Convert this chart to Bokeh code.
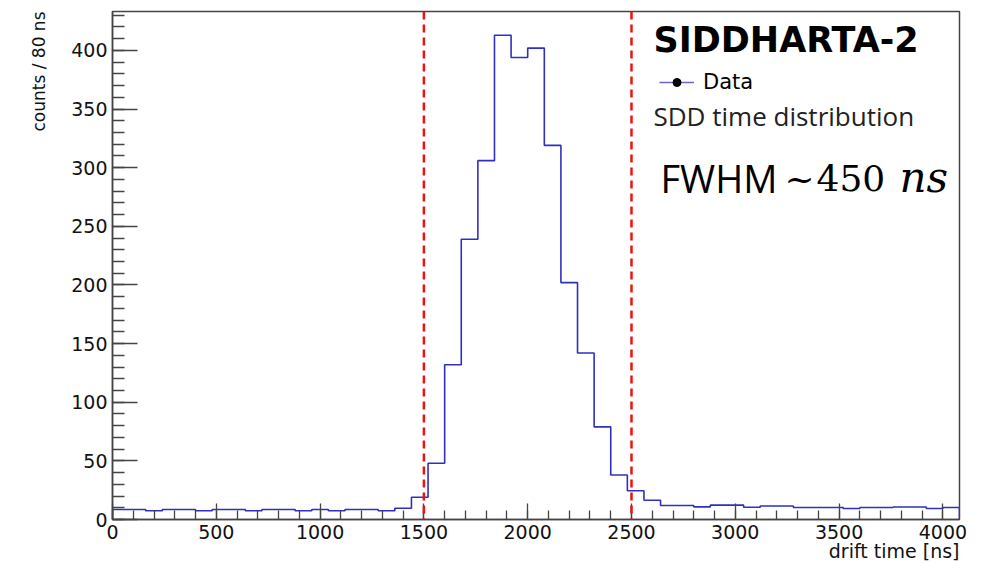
import numpy as np
from bokeh.plotting import figure
from bokeh.models import (Range1d, FixedTicker, Span, Label, Legend, LegendItem,
                          ColumnDataSource, Title)
from bokeh.embed import file_html
from bokeh.resources import INLINE

# ---------------- data ----------------
bin_width = 80          # ns
n_bins = 51
counts = [8.5, 8.5, 7.4, 8.5, 8.5, 7.4, 8.5, 8.5, 7.4, 8.5,
          8.5, 7.4, 8.5, 7.4, 8.5, 8.5, 7.4, 9.6, 19, 48,
          132, 239, 306, 413, 394, 402, 319, 202, 142, 79,
          38, 24.5, 16.4, 12, 12, 10.8, 12.3, 12.3, 10.5, 11.5,
          11.5, 10.2, 10.2, 10.2, 9.4, 10.2, 10.2, 10.7, 10.7, 9.4,
          10.2]
cut_lines = [1500, 2500]
x_major = [0, 500, 1000, 1500, 2000, 2500, 3000, 3500, 4000]
y_major = [0, 50, 100, 150, 200, 250, 300, 350, 400]
x_minor_step = 100
y_minor_step = 10
x_title = "drift time [ns]"
y_title = "counts / 80 ns"
experiment = "SIDDHARTA-2"
legend_label = "Data"
subtitle = "SDD time distribution"

X0, X1 = 0, bin_width * n_bins
Y0, Y1 = 0, 433.2

# ---------------- layout helpers (canvas pixels -> data) ----------------
W, H = 994, 563
FL, FR, FT, FB = 112, 959, 11, 519
def dx(px):
    return X0 + (px - FL) * (X1 - X0) / (FR - FL)
def dy(py):
    return Y0 + (FB - py) * (Y1 - Y0) / (FB - FT)

p = figure(width=W, height=H, x_range=Range1d(X0, X1), y_range=Range1d(Y0, Y1),
           output_backend="svg", toolbar_location=None,
           min_border_left=FL, min_border_right=W - FR, min_border_top=FT,
           min_border_bottom=H - FB)
p.background_fill_color = "white"
p.border_fill_color = "white"
p.grid.visible = False
p.outline_line_color = "#444444"
p.outline_line_width = 1.5

# histogram outline
edges = np.arange(n_bins + 1) * bin_width
xs = np.repeat(edges, 2)
ys = np.concatenate([[0], np.repeat(np.array(counts, dtype=float), 2), [0]])
hist_r = p.line(xs, ys, line_color="#3030c0", line_width=1.6)

for c in cut_lines:
    p.add_layout(Span(location=c, dimension="height", line_color="#ee1111",
                      line_width=2.5, line_dash="8 5"))

# axes
xa = p.xaxis[0]
xa.ticker = FixedTicker(ticks=x_major,
                        minor_ticks=list(range(X0, X1 + 1, x_minor_step)))
ya = p.yaxis[0]
ya.ticker = FixedTicker(ticks=y_major,
                        minor_ticks=list(range(0, int(Y1) + 1, y_minor_step)))
for ax in (xa, ya):
    ax.axis_line_color = "#444444"
    ax.axis_line_width = 1.5
    ax.major_tick_line_color = "#444444"
    ax.minor_tick_line_color = "#444444"
    ax.major_tick_line_width = 1.3
    ax.minor_tick_line_width = 1.3
    ax.major_tick_out = 0
    ax.minor_tick_out = 0
    ax.major_label_text_font = "DejaVu Sans"
    ax.major_label_text_font_size = "19px"
    ax.major_label_text_color = "#111111"
xa.major_tick_in = 16
xa.minor_tick_in = 9
xa.major_label_standoff = 5
ya.major_tick_in = 25
ya.minor_tick_in = 12
ya.major_label_standoff = 5

# axis titles (as side titles, aligned to the axis ends)
p.add_layout(Title(text=x_title, align="right", standoff=-7, offset=0,
                   text_font="DejaVu Sans", text_font_style="normal",
                   text_font_size="19px", text_color="#111111"), "below")
p.add_layout(Title(text=y_title, align="right", standoff=40, offset=0,
                   text_font="DejaVu Sans", text_font_style="normal",
                   text_font_size="17px", text_color="#111111"), "left")

# texts in the frame
def add_text(px, py, text, font, size, style="normal", color="black"):
    p.add_layout(Label(x=dx(px), y=dy(py), text=text, text_align="left",
                       text_baseline="alphabetic", text_font=font,
                       text_font_style=style, text_font_size=size, text_color=color))

add_text(653, 39, experiment, "DejaVu Sans", "35px", "bold")
add_text(653, 115, subtitle, "Open Sans", "26px", color="#222222")
add_text(660, 177, "FWHM", "Open Sans", "38px")
add_text(784, 178, "~", "DejaVu Serif", "36px")
add_text(816, 177, "450", "DejaVu Serif", "36px")
add_text(899, 177, "ns", "DejaVu Serif", "42px", "italic")

# legend (line with a dot marker)
dummy = ColumnDataSource(data=dict(x=[np.nan], y=[np.nan]))
leg_line = p.line("x", "y", source=dummy, line_color="#6666cc", line_width=1.3)
leg_dot = p.scatter("x", "y", source=dummy, size=3, color="black")
legend = Legend(items=[LegendItem(label=legend_label, renderers=[leg_line, leg_dot])],
                location=(547, 425), border_line_color=None, background_fill_alpha=0,
                padding=0, margin=0, glyph_width=35, glyph_height=20, label_height=20,
                label_standoff=9, label_text_font="DejaVu Sans",
                label_text_font_size="21px", label_text_color="black",
                label_text_baseline="middle")
p.add_layout(legend)

open("out.html", "w").write(file_html(p, INLINE))
